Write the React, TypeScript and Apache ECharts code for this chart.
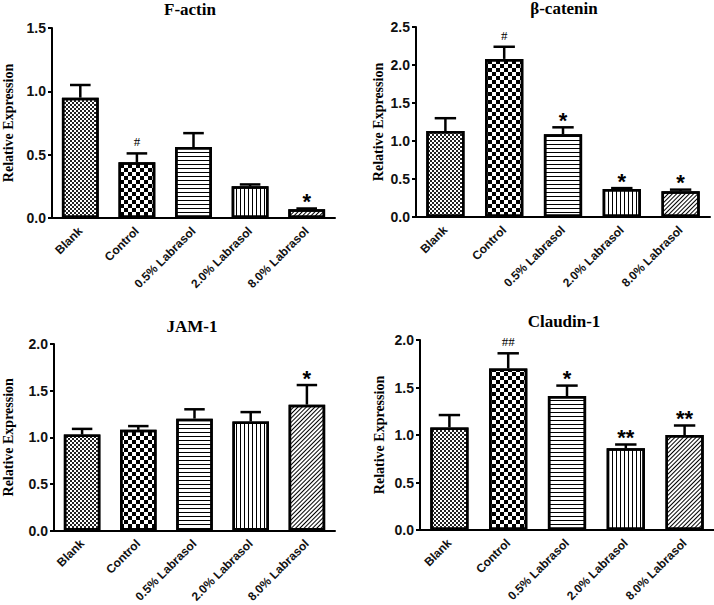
import React, { useEffect, useRef } from 'react';
import * as echarts from 'echarts';

const categories = ['Blank', 'Control', '0.5% Labrasol', '2.0% Labrasol', '8.0% Labrasol'];

const factinMean = [0.95, 0.44, 0.56, 0.25, 0.07];
const factinErr = [0.1, 0.07, 0.11, 0.015, 0.005];
const factinMarks = ['', '#', '', '', '*'];

const cateninMean = [1.13, 2.08, 1.09, 0.37, 0.34];
const cateninErr = [0.17, 0.16, 0.09, 0.01, 0.02];
const cateninMarks = ['', '#', '*', '*', '*'];

const jamMean = [1.03, 1.08, 1.2, 1.17, 1.35];
const jamErr = [0.06, 0.04, 0.1, 0.1, 0.21];
const jamMarks = ['', '', '', '', '*'];

const claudinMean = [1.08, 1.7, 1.41, 0.86, 1.0];
const claudinErr = [0.13, 0.16, 0.11, 0.04, 0.1];
const claudinMarks = ['', '##', '*', '**', '**'];

const titles = ['F-actin', 'β-catenin', 'JAM-1', 'Claudin-1'];
const yMax = [1.5, 2.5, 2.0, 2.0];
const yInterval = 0.5;
const yName = 'Relative Expression';

const means = [factinMean, cateninMean, jamMean, claudinMean];
const errs = [factinErr, cateninErr, jamErr, claudinErr];
const marks = [factinMarks, cateninMarks, jamMarks, claudinMarks];

// layout
const grids = [
  { left: 47, top: 28, width: 288, height: 190 },
  { left: 416, top: 27, width: 294, height: 190 },
  { left: 49, top: 344, width: 286, height: 190 },
  { left: 420, top: 340, width: 294, height: 190 },
];
const titlePos = [
  [190, 1],
  [564, 0],
  [192, 318],
  [564, 313],
];
const nameGaps = [37, 31, 39, 34];

const SANS = '"Liberation Sans", Arial, sans-serif';
const SERIF = '"Liberation Serif", "Times New Roman", serif';

const decals: any[] = [
  { symbol: 'rect', symbolSize: 1, dashArrayX: [[1.5, 1.5], [0, 1.5, 1.5, 0]], dashArrayY: [1.5, 0], color: '#222' },
  { symbol: 'rect', symbolSize: 1, dashArrayX: [[3.5, 3.5], [0, 3.5, 3.5, 0]], dashArrayY: [3.5, 0], color: '#000' },
  { symbol: 'rect', symbolSize: 1, dashArrayX: [1, 0], dashArrayY: [1, 3], color: '#000' },
  { symbol: 'rect', symbolSize: 1, dashArrayX: [1, 3], dashArrayY: [1, 0], color: '#000' },
  { symbol: 'rect', symbolSize: 1, dashArrayX: [1, 0], dashArrayY: [1, 2], rotation: -Math.PI / 4, color: '#000' },
];

function buildOption() {
  const option: any = {
    animation: false,
    backgroundColor: '#fff',
    aria: { enabled: true, decal: { show: true } },
    title: [],
    grid: [],
    xAxis: [],
    yAxis: [],
    series: [],
  };
  for (let p = 0; p < 4; p++) {
    option.title.push({
      text: titles[p],
      left: titlePos[p][0],
      top: titlePos[p][1],
      padding: 0,
      textAlign: 'center',
      textStyle: { fontFamily: SERIF, fontWeight: 'bold', fontSize: 17, color: '#000' },
    });
    option.grid.push({ ...grids[p], containLabel: false });
    option.xAxis.push({
      type: 'category',
      gridIndex: p,
      data: categories,
      axisLine: { lineStyle: { color: '#000', width: 2 } },
      axisTick: { alignWithLabel: true, length: 5, lineStyle: { color: '#000', width: 2 } },
      axisLabel: {
        rotate: 45,
        interval: 0,
        margin: 11,
        fontFamily: SANS,
        fontWeight: 'bold',
        fontSize: 12,
        color: '#111',
      },
    });
    option.yAxis.push({
      type: 'value',
      gridIndex: p,
      min: 0,
      max: yMax[p],
      interval: yInterval,
      name: yName,
      nameLocation: 'middle',
      nameGap: nameGaps[p],
      nameTextStyle: { fontFamily: SERIF, fontWeight: 'bold', fontSize: 14, color: '#000' },
      axisLine: { show: true, lineStyle: { color: '#000', width: 2 } },
      axisTick: { show: true, length: 4, lineStyle: { color: '#000', width: 2 } },
      splitLine: { show: false },
      axisLabel: {
        margin: 6,
        fontFamily: SANS,
        fontWeight: 'bold',
        fontSize: 14,
        color: '#111',
        formatter: (v: number) => v.toFixed(1),
      },
    });
    option.series.push({
      type: 'bar',
      xAxisIndex: p,
      yAxisIndex: p,
      barWidth: '65%',
      data: means[p].map((v, i) => ({
        value: v,
        itemStyle: { color: '#fff', borderColor: '#000', borderWidth: 2.5, decal: decals[i] },
      })),
    });
    const pm = marks[p];
    option.series.push({
      type: 'custom',
      xAxisIndex: p,
      yAxisIndex: p,
      z: 5,
      itemStyle: { decal: 'none' },
      data: means[p].map((v, i) => [i, v, errs[p][i]]),
      encode: { x: 0, y: 1 },
      renderItem: (params: any, api: any) => {
        const i = api.value(0);
        const m = api.value(1);
        const e = api.value(2);
        const base = api.coord([i, m]);
        const top = api.coord([i, m + e]);
        const bw = api.size([1, 0])[0];
        const half = bw * 0.65 * 0.28;
        const children: any[] = [
          { type: 'line', shape: { x1: top[0], y1: base[1], x2: top[0], y2: top[1] }, style: { stroke: '#000', lineWidth: 2.5 } },
          { type: 'line', shape: { x1: top[0] - half, y1: top[1], x2: top[0] + half, y2: top[1] }, style: { stroke: '#000', lineWidth: 2.5 } },
        ];
        const mk = pm[params.dataIndex];
        if (mk) {
          const isHash = mk.indexOf('#') >= 0;
          children.push({
            type: 'text',
            x: top[0],
            y: isHash ? top[1] - 5 : top[1] + 4,
            style: {
              text: mk,
              textAlign: 'center',
              textVerticalAlign: 'bottom',
              font: isHash ? `13px ${SERIF}` : `bold 22px ${SANS}`,
              fill: '#000',
            },
          });
        }
        return { type: 'group', children };
      },
    });
  }
  return option;
}

export default function App() {
  const ref = useRef<HTMLDivElement>(null);
  useEffect(() => {
    if (!ref.current) return;
    const chart = echarts.init(ref.current, undefined, { renderer: 'svg' });
    chart.setOption(buildOption());
    return () => chart.dispose();
  }, []);
  return (
    <div
      ref={ref}
      style={{ position: 'fixed', left: 0, top: 0, width: 714, height: 605, background: '#fff' }}
    />
  );
}
